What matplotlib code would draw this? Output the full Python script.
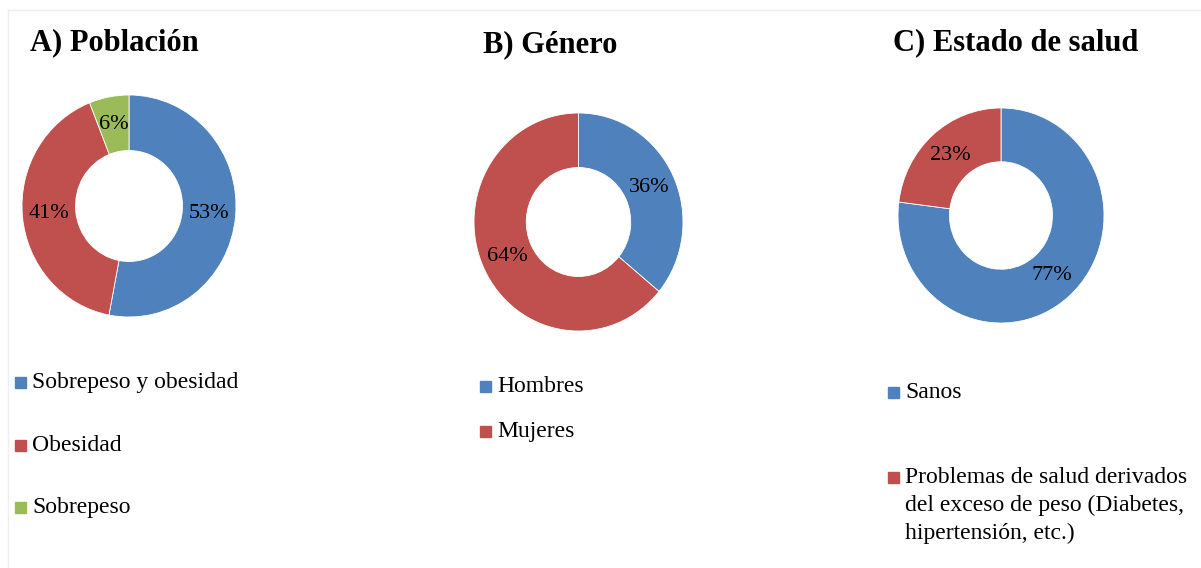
import matplotlib.pyplot as plt
from matplotlib.patches import Rectangle
from matplotlib.lines import Line2D

plt.rcParams['font.family'] = ['Liberation Serif', 'DejaVu Serif']

W, H = 1201, 568

# data
titulos = ["A) Población", "B) Género", "C) Estado de salud"]

poblacion_labels = ["Sobrepeso y obesidad", "Obesidad", "Sobrepeso"]
poblacion_vals = [53, 41, 6]

genero_labels = ["Hombres", "Mujeres"]
genero_vals = [36, 64]

salud_labels = ["Sanos",
                "Problemas de salud derivados\ndel exceso de peso (Diabetes,\nhipertensión, etc.)"]
salud_vals = [77, 23]

azul = '#4F81BD'
rojo = '#C0504D'
verde = '#9BBB59'


def fx(x):
    return x / W


def fy(y):
    return 1 - y / H


fig = plt.figure(figsize=(W / 100, H / 100), dpi=100)

# light frame
fig.add_artist(Line2D([fx(8), 1], [fy(10), fy(10)], color='#efefef', lw=1))
fig.add_artist(Line2D([fx(8), fx(8)], [fy(10), 0], color='#efefef', lw=1))

# donut boxes in pixels: left, top, right, bottom
cajas = [(22, 95, 236, 317), (474, 113, 683, 331), (898, 108, 1104, 323)]
series = [(poblacion_vals, [azul, rojo, verde]),
          (genero_vals, [azul, rojo]),
          (salud_vals, [azul, rojo])]

for (l, t, r, b), (vals, cols) in zip(cajas, series):
    ax = fig.add_axes([fx(l), fy(b), (r - l) / W, (b - t) / H])
    ax.pie(vals, colors=cols, startangle=90, counterclock=False, radius=1,
           autopct='%1.0f%%', pctdistance=0.75,
           wedgeprops=dict(width=0.5, edgecolor='white', linewidth=0.6),
           textprops=dict(fontsize=16, color='black'))
    ax.set_aspect('auto')
    ax.set_xlim(-1, 1)
    ax.set_ylim(-1, 1)
    ax.axis('off')

# titles
for (x, y), txt in zip([(30, 50), (483, 52), (893, 50)], titulos):
    fig.text(fx(x), fy(y), txt, fontsize=22, fontweight='bold', va='baseline', ha='left')


def leyenda(x0, baselines, labels, cols):
    for yb, lab, c in zip(baselines, labels, cols):
        fig.add_artist(Rectangle((fx(x0), fy(yb)), 11 / W, 11 / H,
                                 transform=fig.transFigure, color=c))
        # one text per line, 28 px apart
        for i, linea in enumerate(lab.split('\n')):
            fig.text(fx(x0 + 17), fy(yb + 28 * i), linea, fontsize=17,
                     va='baseline', ha='left')


leyenda(15, [388, 451, 513], poblacion_labels, [azul, rojo, verde])
leyenda(480, [392, 437], genero_labels, [azul, rojo])
leyenda(888, [398, 483], salud_labels, [azul, rojo])

fig.savefig('out.png', dpi=100)
